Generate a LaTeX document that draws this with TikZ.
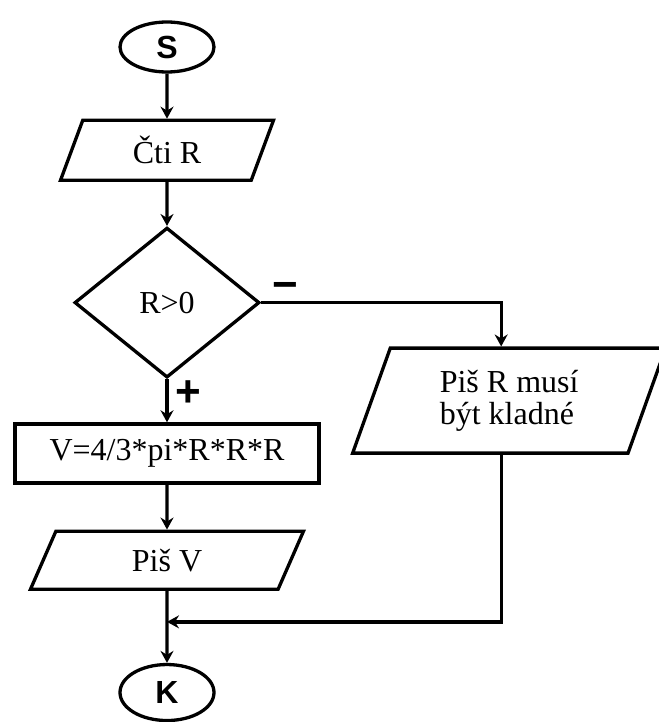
\documentclass[tikz,border=0pt]{standalone}
\usepackage{fontspec}
\setmainfont{Liberation Serif}
\newfontfamily\headfont{Liberation Sans}
\usetikzlibrary{positioning,arrows.meta,shapes.geometric}

\begin{document}
\begin{tikzpicture}[> = {Stealth[length=12pt, width=13pt, inset=4pt]}, line width=3.3pt,
  every node/.style={font=\fontsize{32}{32}\selectfont},
  terminal/.style={draw, ellipse, minimum width=94pt, minimum height=50pt, inner sep=0pt,
    font=\headfont\bfseries\fontsize{32}{33}\selectfont},
  io/.style={draw, trapezium, trapezium stretches body, inner sep=2pt, align=center},
  process/.style={draw, rectangle, minimum width=304pt, minimum height=59pt},
  decision/.style={draw, diamond, aspect=1.23, minimum width=185pt, minimum height=150pt, inner sep=0pt},
  sign/.style={font=\headfont\bfseries\fontsize{44}{44}\selectfont, inner sep=1pt}]
\useasboundingbox (0,0) rectangle (658pt,-722pt);

\node (start) [terminal] at (167pt,-47pt) {S};
\node (read) [io, trapezium left angle=55, trapezium right angle=125,
  minimum width=213pt, minimum height=60pt, below=45pt of start] {Čti R};
\node (dec) [decision, below=44pt of read] {R>0};
\node (calc) [process, below=43pt of dec] {V=4/3*pi*R*R*R};
\node (out) [io, trapezium left angle=46.5, trapezium right angle=133.5,
  minimum width=273pt, minimum height=58pt, below=45pt of calc] {Piš V};
\node (stop) [terminal, minimum height=56pt, below=72pt of out] {K};

\node (neg) [io, align=left, trapezium left angle=60, trapezium right angle=120,
  minimum width=313pt, minimum height=105pt] at ([xshift=248pt, yshift=-98pt]dec.east) {Piš R musí\\být kladné};

\node (join) [coordinate, below=31pt of out] {};
\coordinate (negin) at ([xshift=-8pt]neg.north);
\coordinate (negout) at ([xshift=-8pt]neg.south);

\draw[->] (start) -- (read);
\draw[->] (read) -- (dec);
\draw[->] (dec) -- node[sign, pos=0.33, xshift=21pt] {+} (calc);
\draw[->] (calc) -- (out);
\draw[->] (out) -- (stop);

\draw[->] (dec) -| node[sign, pos=0.05, yshift=12pt] {−} (negin);
\draw[->] (negout) |- (join);
\end{tikzpicture}
\end{document}
